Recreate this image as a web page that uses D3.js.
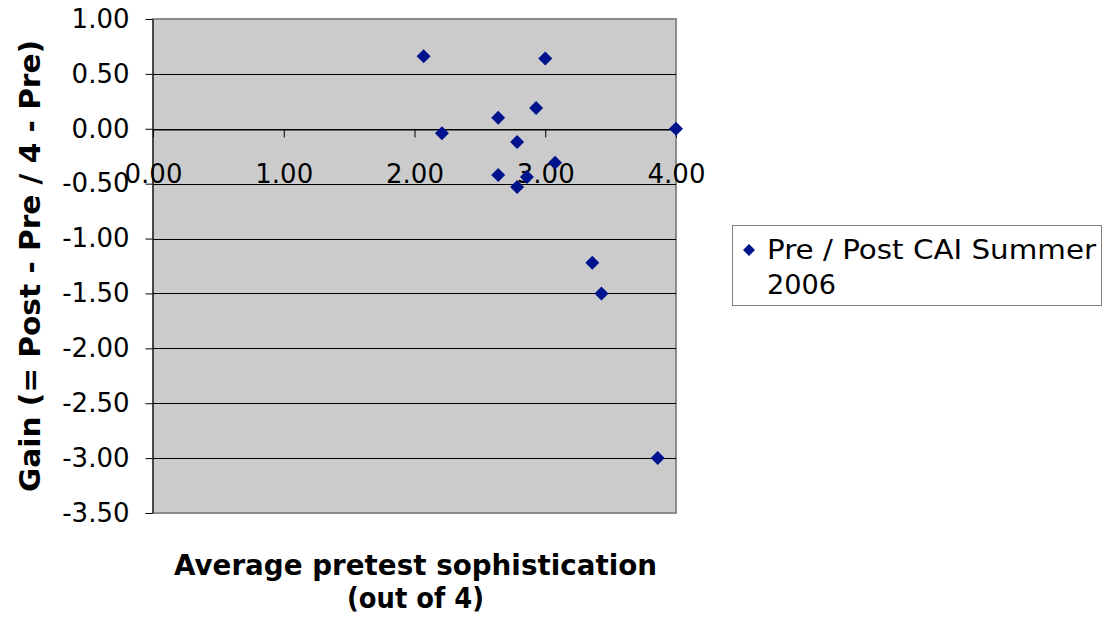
<!DOCTYPE html>
<html>
<head>
<meta charset="utf-8">
<script src="https://cdn.jsdelivr.net/npm/d3@7"></script>
<style>
  html, body { margin: 0; padding: 0; background: #ffffff; }
  svg { display: block; font-family: "DejaVu Sans", Verdana, sans-serif; }
</style>
</head>
<body>
<svg id="chart" width="1106" height="617"></svg>
<script>
// ---- data ----
const seriesName = ["Pre / Post CAI Summer", "2006"];
const pretest = [2.07, 3.00, 2.21, 2.64, 2.93, 2.785, 4.00, 3.075, 2.64, 2.86, 2.785, 3.36, 3.43, 3.86];
const gain    = [0.66, 0.64, -0.04, 0.10, 0.19, -0.12, 0.00, -0.31, -0.42, -0.44, -0.53, -1.22, -1.50, -3.00];
const xTicks = [0, 1, 2, 3, 4];
const yTicks = [1.0, 0.5, 0.0, -0.5, -1.0, -1.5, -2.0, -2.5, -3.0, -3.5];
const xTitle = ["Average pretest sophistication", "(out of 4)"];
const yTitle = "Gain (= Post - Pre / 4 - Pre)";

const svg = d3.select("#chart");
const L = 153, R = 676, T = 19, B = 513;
const x = d3.scaleLinear().domain([0, 4]).range([L, R]);
const y = d3.scaleLinear().domain([-3.5, 1]).range([B, T]);

const fmt = d => d3.format(".2f")(d).replace("\u2212", "-");
const FONT = "DejaVu Sans, Verdana, sans-serif";

// plot area
svg.append("rect")
  .attr("x", L).attr("y", T).attr("width", R - L).attr("height", B - T)
  .attr("fill", "#cbcbcb").attr("stroke", "#8c8c8c").attr("stroke-width", 2);

// gridlines
svg.append("g").selectAll("line").data(yTicks.filter(d => d !== 1 && d !== -3.5)).join("line")
  .attr("x1", L).attr("x2", R)
  .attr("y1", d => Math.round(y(d)) + 0.5).attr("y2", d => Math.round(y(d)) + 0.5)
  .attr("stroke", "#000").attr("stroke-width", 1);

// y axis
const yAxis = d3.axisLeft(y).tickValues(yTicks).tickFormat(fmt).tickSize(7).tickSizeOuter(0).tickPadding(16);
const gy = svg.append("g").attr("transform", `translate(${L - 0.5},0)`).call(yAxis);
gy.select(".domain").attr("stroke", "#000");
gy.selectAll(".tick line").attr("stroke", "#000");
gy.selectAll(".tick text").attr("font-size", 26).attr("fill", "#000").attr("font-family", FONT);

// x axis at y = 0
const xAxis = d3.axisBottom(x).tickValues(xTicks).tickFormat(fmt).tickSize(8).tickSizeOuter(0).tickPadding(27);
const gx = svg.append("g").attr("transform", `translate(0,${Math.round(y(0)) + 0.5})`).call(xAxis);
gx.select(".domain").attr("stroke", "#000");
gx.selectAll(".tick line").attr("stroke", "#000");
gx.selectAll(".tick text").attr("font-size", 26).attr("fill", "#000").attr("font-family", FONT);

// points (diamonds)
const r = 7;
const diamond = (cx, cy, s) => `M${cx},${cy - s}L${cx + s},${cy}L${cx},${cy + s}L${cx - s},${cy}Z`;
svg.append("g").selectAll("path").data(pretest.map((d, i) => [d, gain[i]])).join("path")
  .attr("d", d => diamond(x(d[0]), y(d[1]), r))
  .attr("fill", "#00138f");

// axis titles
const xTitleLen = [483, 137];
const xt = svg.append("text")
  .attr("text-anchor", "middle").attr("font-size", 28).attr("font-weight", "bold");
xt.selectAll("tspan").data(xTitle).join("tspan")
  .attr("x", (L + R) / 2 + 1)
  .attr("y", (d, i) => i === 0 ? 575 : 608)
  .attr("textLength", (d, i) => xTitleLen[i])
  .attr("lengthAdjust", "spacingAndGlyphs")
  .text(d => d);

svg.append("text")
  .attr("transform", `translate(40,${(T + B) / 2}) rotate(-90)`)
  .attr("text-anchor", "middle").attr("font-size", 28).attr("font-weight", "bold")
  .attr("textLength", 452).attr("lengthAdjust", "spacingAndGlyphs")
  .text(yTitle);

// legend
const legLen = [329, 69];
const lg = svg.append("g");
lg.append("rect").attr("x", 732.5).attr("y", 225.5).attr("width", 369).attr("height", 80)
  .attr("fill", "#fff").attr("stroke", "#808080").attr("stroke-width", 1);
lg.append("path").attr("d", diamond(749, 250, 6)).attr("fill", "#00138f");
lg.append("text").attr("font-size", 26)
  .selectAll("tspan").data(seriesName).join("tspan")
  .attr("x", 767).attr("y", (d, i) => i === 0 ? 259 : 294)
  .attr("textLength", (d, i) => legLen[i])
  .attr("lengthAdjust", "spacingAndGlyphs")
  .text(d => d);
</script>
</body>
</html>
